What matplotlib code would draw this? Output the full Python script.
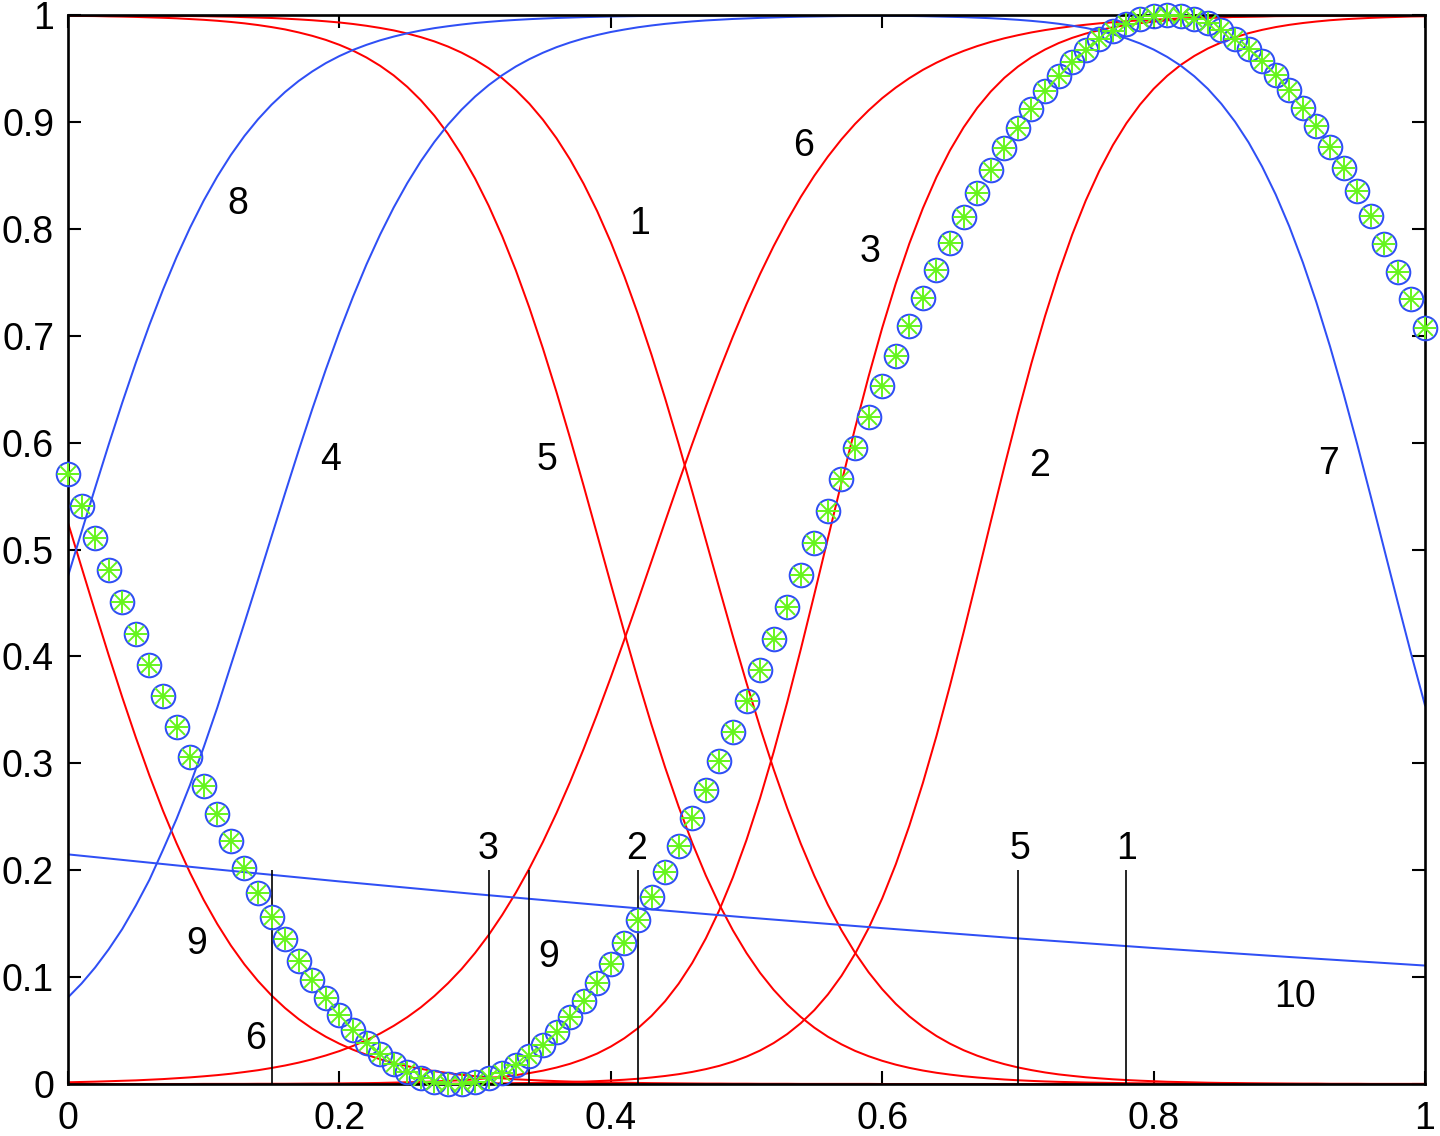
import numpy as np
import matplotlib.pyplot as plt

plt.rcParams['font.family'] = ['Liberation Sans', 'DejaVu Sans']

# everything is sampled every 0.01 on [0, 1]
x_pts = np.linspace(0, 1, 101)

red_1 = [0.9998, 0.9998, 0.9997, 0.9997, 0.9996, 0.9995, 0.9994, 0.9993, 0.9992, 0.9990,
         0.9989, 0.9986, 0.9984, 0.9980, 0.9976, 0.9972, 0.9966, 0.9959, 0.9951, 0.9941,
         0.9930, 0.9916, 0.9899, 0.9879, 0.9856, 0.9827, 0.9793, 0.9753, 0.9705, 0.9648,
         0.9581, 0.9502, 0.9408, 0.9298, 0.9170, 0.9020, 0.8847, 0.8648, 0.8421, 0.8164,
         0.7875, 0.7555, 0.7203, 0.6822, 0.6415, 0.5987, 0.5543, 0.5090, 0.4636, 0.4187,
         0.3752, 0.3336, 0.2944, 0.2581, 0.2248, 0.1947, 0.1676, 0.1438, 0.1228, 0.1045,
         0.0887, 0.0750, 0.0633, 0.0534, 0.0449, 0.0377, 0.0316, 0.0265, 0.0222, 0.0186,
         0.0155, 0.0130, 0.0108, 0.0090, 0.0076, 0.0063, 0.0053, 0.0044, 0.0037, 0.0031,
         0.0026, 0.0021, 0.0018, 0.0015, 0.0012, 0.0010, 0.0009, 0.0007, 0.0006, 0.0005,
         0.0004, 0.0003, 0.0003, 0.0002, 0.0002, 0.0002, 0.0001, 0.0001, 0.0001, 0.0001, 0.0001]
red_5 = [0.9993, 0.9991, 0.9990, 0.9987, 0.9985, 0.9982, 0.9978, 0.9974, 0.9969, 0.9962,
         0.9955, 0.9946, 0.9935, 0.9922, 0.9906, 0.9887, 0.9865, 0.9837, 0.9805, 0.9767,
         0.9721, 0.9667, 0.9602, 0.9525, 0.9435, 0.9328, 0.9203, 0.9058, 0.8889, 0.8693,
         0.8470, 0.8216, 0.7930, 0.7612, 0.7261, 0.6880, 0.6472, 0.6042, 0.5595, 0.5137,
         0.4678, 0.4224, 0.3782, 0.3360, 0.2963, 0.2594, 0.2256, 0.1951, 0.1678, 0.1437,
         0.1225, 0.1040, 0.0881, 0.0744, 0.0627, 0.0527, 0.0442, 0.0371, 0.0310, 0.0260,
         0.0217, 0.0181, 0.0151, 0.0126, 0.0105, 0.0088, 0.0073, 0.0061, 0.0051, 0.0042,
         0.0035, 0.0029, 0.0024, 0.0020, 0.0017, 0.0014, 0.0012, 0.0010, 0.0008, 0.0007,
         0.0006, 0.0005, 0.0004, 0.0003, 0.0003, 0.0002, 0.0002, 0.0002, 0.0001, 0.0001,
         0.0001, 0.0001, 0.0001, 0.0, 0.0, 0.0, 0.0, 0.0, 0.0, 0.0, 0.0]
red_6 = [0.0016, 0.0019, 0.0022, 0.0026, 0.0030, 0.0034, 0.0040, 0.0046, 0.0054, 0.0062,
         0.0072, 0.0083, 0.0096, 0.0112, 0.0129, 0.0150, 0.0173, 0.0200, 0.0231, 0.0267,
         0.0308, 0.0356, 0.0410, 0.0472, 0.0544, 0.0625, 0.0717, 0.0823, 0.0942, 0.1075,
         0.1226, 0.1394, 0.1582, 0.1789, 0.2017, 0.2265, 0.2535, 0.2825, 0.3135, 0.3462,
         0.3804, 0.4158, 0.4521, 0.4890, 0.5260, 0.5627, 0.5987, 0.6337, 0.6673, 0.6993,
         0.7295, 0.7577, 0.7838, 0.8078, 0.8298, 0.8497, 0.8676, 0.8837, 0.8981, 0.9108,
         0.9222, 0.9321, 0.9409, 0.9487, 0.9554, 0.9613, 0.9664, 0.9709, 0.9748, 0.9782,
         0.9811, 0.9837, 0.9859, 0.9878, 0.9895, 0.9909, 0.9922, 0.9932, 0.9942, 0.9950,
         0.9956, 0.9962, 0.9968, 0.9972, 0.9976, 0.9979, 0.9982, 0.9985, 0.9987, 0.9989,
         0.9990, 0.9991, 0.9993, 0.9994, 0.9994, 0.9995, 0.9996, 0.9996, 0.9997, 0.9997, 0.9998]
red_3 = [0.0, 0.0, 0.0, 0.0, 0.0, 0.0, 0.0, 0.0, 0.0, 0.0,
         0.0001, 0.0001, 0.0001, 0.0001, 0.0002, 0.0002, 0.0002, 0.0003, 0.0004, 0.0004,
         0.0005, 0.0007, 0.0008, 0.0010, 0.0013, 0.0016, 0.0019, 0.0024, 0.0029, 0.0036,
         0.0044, 0.0055, 0.0067, 0.0083, 0.0102, 0.0125, 0.0154, 0.0189, 0.0233, 0.0285,
         0.0350, 0.0428, 0.0522, 0.0637, 0.0774, 0.0938, 0.1132, 0.1361, 0.1627, 0.1934,
         0.2283, 0.2674, 0.3105, 0.3571, 0.4066, 0.4581, 0.5105, 0.5627, 0.6135, 0.6620,
         0.7073, 0.7488, 0.7862, 0.8193, 0.8484, 0.8735, 0.8949, 0.9131, 0.9284, 0.9412,
         0.9517, 0.9605, 0.9677, 0.9737, 0.9786, 0.9826, 0.9858, 0.9885, 0.9907, 0.9924,
         0.9938, 0.9950, 0.9959, 0.9967, 0.9973, 0.9978, 0.9982, 0.9986, 0.9988, 0.9991,
         0.9992, 0.9994, 0.9995, 0.9996, 0.9997, 0.9997, 0.9998, 0.9998, 0.9999, 0.9999, 0.9999]
red_2 = [0.0] * 20 + [
         0.0001, 0.0001, 0.0001, 0.0001, 0.0001, 0.0001, 0.0002, 0.0002, 0.0003, 0.0003,
         0.0004, 0.0005, 0.0006, 0.0008, 0.0009, 0.0012, 0.0014, 0.0018, 0.0022, 0.0027,
         0.0033, 0.0040, 0.0049, 0.0061, 0.0075, 0.0092, 0.0113, 0.0139, 0.0170, 0.0209,
         0.0256, 0.0313, 0.0383, 0.0467, 0.0569, 0.0691, 0.0838, 0.1012, 0.1218, 0.1458,
         0.1736, 0.2055, 0.2416, 0.2817, 0.3256, 0.3729, 0.4226, 0.4740, 0.5260, 0.5774,
         0.6271, 0.6744, 0.7183, 0.7584, 0.7945, 0.8264, 0.8542, 0.8783, 0.8988, 0.9162,
         0.9309, 0.9431, 0.9533, 0.9617, 0.9687, 0.9744, 0.9791, 0.9830, 0.9861, 0.9887,
         0.9908, 0.9925, 0.9939, 0.9951, 0.9960, 0.9967, 0.9973, 0.9978, 0.9982, 0.9986, 0.9988]
red_9 = [0.5250, 0.4833, 0.4418, 0.4011, 0.3617, 0.3241, 0.2886, 0.2556, 0.2252, 0.1974,
         0.1722, 0.1497, 0.1296, 0.1119, 0.0964, 0.0828, 0.0710, 0.0607, 0.0518, 0.0442,
         0.0377, 0.0321, 0.0273, 0.0232, 0.0197, 0.0167, 0.0142, 0.0120, 0.0102, 0.0086,
         0.0073, 0.0062, 0.0053, 0.0044, 0.0038, 0.0032, 0.0027, 0.0023, 0.0019, 0.0016,
         0.0014, 0.0012, 0.0010, 0.0008, 0.0007, 0.0006, 0.0005, 0.0004, 0.0004, 0.0003,
         0.0003, 0.0002, 0.0002, 0.0002, 0.0001, 0.0001, 0.0001, 0.0001, 0.0001, 0.0001] + [0.0] * 41
blue_8 = [0.4751, 0.5166, 0.5577, 0.5982, 0.6374, 0.6748, 0.7101, 0.7430, 0.7735, 0.8012,
          0.8264, 0.8489, 0.8690, 0.8868, 0.9024, 0.9161, 0.9280, 0.9383, 0.9472, 0.9550,
          0.9616, 0.9673, 0.9721, 0.9763, 0.9798, 0.9829, 0.9855, 0.9877, 0.9895, 0.9911,
          0.9925, 0.9936, 0.9946, 0.9954, 0.9961, 0.9967, 0.9972, 0.9976, 0.9980, 0.9983,
          0.9986, 0.9988, 0.9990, 0.9991, 0.9993, 0.9994, 0.9995, 0.9995, 0.9996, 0.9997,
          0.9997, 0.9997, 0.9998, 0.9998, 0.9999, 0.9999, 0.9999, 0.9999, 0.9999, 0.9999] + [1.0] * 41
blue_4 = [0.081, 0.094, 0.109, 0.126, 0.145, 0.167, 0.191, 0.219, 0.248, 0.280,
          0.315, 0.352, 0.3917, 0.4312, 0.4715, 0.5122, 0.5528, 0.5927, 0.6313, 0.6684,
          0.7035, 0.7363, 0.7668, 0.7946, 0.8199, 0.8427, 0.8632, 0.8813, 0.8974, 0.9114,
          0.9237, 0.9344, 0.9437, 0.9518, 0.9587, 0.9647, 0.9699, 0.9743, 0.9781, 0.9813,
          0.9841, 0.9864, 0.9885, 0.9902, 0.9917, 0.9929, 0.9940, 0.9949, 0.9956, 0.9963,
          0.9968, 0.9973, 0.9977, 0.9981, 0.9984, 0.9986, 0.9988, 0.9990, 0.9991, 0.9993,
          0.9994, 0.9995, 0.9995, 0.9996, 0.9997, 0.9997, 0.9998, 0.9998, 0.9998, 0.9999,
          0.9999, 0.9999, 0.9999, 0.9999, 0.9999] + [1.0] * 26
blue_7 = [1.0] * 49 + [
          0.9999, 0.9999, 0.9999, 0.9999, 0.9998, 0.9998, 0.9998, 0.9997, 0.9997, 0.9996, 0.9995,
          0.9994, 0.9993, 0.9991, 0.9989, 0.9986, 0.9983, 0.9980, 0.9975, 0.9970, 0.9963,
          0.9955, 0.9945, 0.9933, 0.9918, 0.9900, 0.9879, 0.9852, 0.9820, 0.9781, 0.9734,
          0.9677, 0.9608, 0.9526, 0.9427, 0.9309, 0.9168, 0.9002, 0.8808, 0.8581, 0.8320,
          0.8022, 0.7685, 0.7311, 0.6900, 0.6457, 0.5987, 0.5498, 0.5000, 0.4502, 0.4013, 0.3543]

# flat curve, sampled every 0.1
x_coarse = np.linspace(0, 1, 11)
blue_10 = [0.2148, 0.2019, 0.1895, 0.1777, 0.1665, 0.1558, 0.1458, 0.1362, 0.1272, 0.1188, 0.1108]

# saturated curves along the frame
x_ends = [0.0, 1.0]
blue_top = [1.0, 1.0]
red_bottom = [0.0, 0.0]

# target points
y_pts = [0.5703, 0.5406, 0.5107, 0.4807, 0.4508, 0.4211, 0.3917, 0.3627, 0.3342, 0.3062,
         0.2789, 0.2525, 0.2270, 0.2024, 0.1789, 0.1565, 0.1354, 0.1155, 0.0970, 0.0801,
         0.0646, 0.0507, 0.0384, 0.0277, 0.0187, 0.0114, 0.0060, 0.0022, 0.0003, 0.0002,
         0.0018, 0.0053, 0.0104, 0.0174, 0.0261, 0.0365, 0.0486, 0.0623, 0.0775, 0.0943,
         0.1125, 0.1321, 0.1530, 0.1752, 0.1986, 0.2230, 0.2484, 0.2748, 0.3018, 0.3297,
         0.3582, 0.3871, 0.4165, 0.4462, 0.4760, 0.5059, 0.5358, 0.5655, 0.5949, 0.6241,
         0.6530, 0.6811, 0.7090, 0.7355, 0.7618, 0.7864, 0.8107, 0.8338, 0.8554, 0.8755,
         0.8947, 0.9124, 0.9285, 0.9432, 0.9563, 0.9677, 0.9775, 0.9855, 0.9918, 0.9963,
         0.9991, 1.0000, 0.9992, 0.9965, 0.9921, 0.9859, 0.9780, 0.9683, 0.9570, 0.9440,
         0.9295, 0.9134, 0.8958, 0.8768, 0.8565, 0.8349, 0.8120, 0.7860, 0.7600, 0.7340, 0.7070]

# vertical markers
vline_x = [0.15, 0.31, 0.34, 0.42, 0.70, 0.78]
vline_h = 0.2
vline_labels = ['6', '3', '9', '2', '5', '1']

red = '#ff0000'
blue = '#2f4ff5'
green = '#66f51c'

fig = plt.figure(figsize=(14.4, 11.36), dpi=100)
ax = fig.add_axes([68 / 1440, 52 / 1136, 1357 / 1440, 1069 / 1136])

lw = 1.45
for y in [red_1, red_5, red_6, red_3, red_2, red_9]:
    ax.plot(x_pts, y, color=red, lw=lw)
ax.plot(x_ends, red_bottom, color=red, lw=lw)
for y in [blue_8, blue_4, blue_7]:
    ax.plot(x_pts, y, color=blue, lw=lw)
ax.plot(x_coarse, blue_10, color=blue, lw=lw)
ax.plot(x_ends, blue_top, color=blue, lw=lw)

ax.vlines(vline_x, 0, vline_h, color='black', lw=1.2)

# MATLAB style 'o' and '*' markers
ax.plot(x_pts, y_pts, 'o', ms=17, mfc='none', mec=blue, mew=1.45, clip_on=False, zorder=5)
ax.plot(x_pts, y_pts, '+', ms=16, mec=green, mew=1.4, clip_on=False, zorder=6)
ax.plot(x_pts, y_pts, 'x', ms=11.3, mec=green, mew=1.4, clip_on=False, zorder=6)

fs = 27
# labels above / beside the vertical lines
vl_pos = {'6': (0.138, 0.046), '3': (0.3095, 0.2236), '9': (0.354, 0.1223),
          '2': (0.419, 0.2236), '5': (0.7015, 0.2236), '1': (0.780, 0.2236)}
for s in vline_labels:
    ax.text(vl_pos[s][0], vl_pos[s][1], s, fontsize=fs, ha='center', va='center_baseline')

# curve labels
curve_labels = [('8', 0.1248, 0.827), ('4', 0.1938, 0.5875), ('5', 0.3527, 0.5875),
                ('1', 0.4215, 0.808), ('6', 0.5424, 0.8815), ('3', 0.591, 0.7817),
                ('2', 0.7163, 0.5822), ('7', 0.9287, 0.5837), ('9', 0.0948, 0.1347),
                ('10', 0.904, 0.0848)]
for s, tx, ty in curve_labels:
    ax.text(tx, ty, s, fontsize=fs, ha='center', va='center_baseline')

ax.set_xlim(0, 1)
ax.set_ylim(0, 1)
ax.set_xticks([0, 0.2, 0.4, 0.6, 0.8, 1])
ax.set_xticklabels(['0', '0.2', '0.4', '0.6', '0.8', '1'])
ax.set_yticks([0, 0.1, 0.2, 0.3, 0.4, 0.5, 0.6, 0.7, 0.8, 0.9, 1])
ax.set_yticklabels(['0', '0.1', '0.2', '0.3', '0.4', '0.5', '0.6', '0.7', '0.8', '0.9', '1'])
ax.tick_params(direction='in', length=9.4, width=1.5, top=True, right=True, labelsize=fs)
ax.tick_params(axis='x', pad=12.5)
ax.tick_params(axis='y', pad=10)
for sp in ax.spines.values():
    sp.set_linewidth(1.9)

plt.savefig('out.png', dpi=100)
